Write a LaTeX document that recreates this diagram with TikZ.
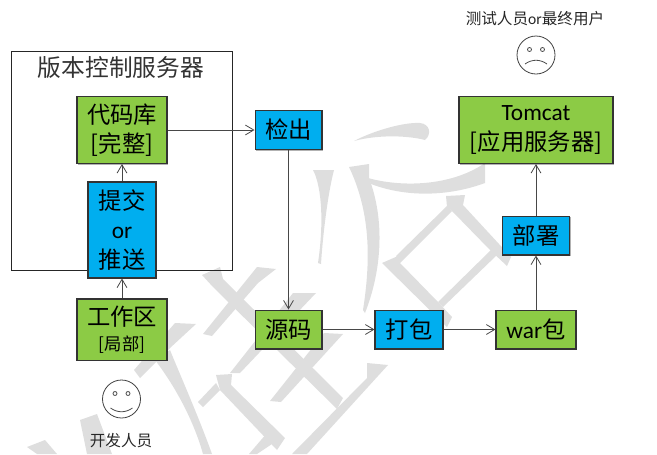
\documentclass[tikz,border=0pt]{standalone}
\usepackage{fontspec}
\usepackage{xcolor}
\setmainfont{Carlito}
\newfontfamily\cjk{Noto Sans CJK SC}
\usetikzlibrary{arrows.meta,shadows}
\definecolor{vcsgreen}{HTML}{8CCB45}
\definecolor{vcsblue}{HTML}{00AEEF}
\colorlet{vcsline}{black!72}
\colorlet{vcsmark}{black!13}
\tikzset{
  vcsstage/.style={
    draw=black!80,
    thick,
    align=center,
    inner sep=0pt,
    font=\fontsize{17.5}{22}\selectfont\cjk,
    drop shadow={shadow xshift=0.8pt,shadow yshift=-0.8pt,opacity=0.3,fill=black}
  },
  vcsgreenbox/.style={vcsstage,fill=vcsgreen},
  vcsbluebox/.style={vcsstage,fill=vcsblue},
  vcsflow/.style={-{Straight Barb[length=2.2mm,width=2.6mm]},semithick,vcsline},
  vcsouter/.style={draw=black!85,semithick,minimum width=165.8pt,minimum height=164.2pt,inner sep=0pt},
  vcsface/.style={circle,draw=black!75,semithick,minimum size=28.5pt,inner sep=0pt},
  vcsfacepart/.style={draw=black!70,semithick},
  vcstitle/.style={font=\fontsize{17.8}{20}\selectfont\cjk,text=black!80},
  vcscaption/.style={font=\fontsize{11.7}{14}\selectfont\cjk,text=black!85},
  vcswater/.style={fill=vcsmark,draw=none}
}
\begin{document}
\begin{tikzpicture}[x=0.75pt,y=-0.75pt]
  \useasboundingbox (0,0) rectangle (657,454);

  \fill[vcswater] (313,170) -- (334,170) .. controls (328,193) and (323,233) .. (321,264) -- (318,263) .. controls (325,215) and (320,183) .. (313,170) -- cycle;
  \fill[vcswater] (349,167) -- (369,164) -- (369,178) .. controls (385,220) and (382,270) .. (365,313) -- (363,310) .. controls (370,265) and (372,215) .. (349,167) -- cycle;
  \fill[vcswater] (368,178) .. controls (400,187) and (450,187) .. (485,163) -- (485,183) .. controls (447,197) and (405,197) .. (371,184) -- cycle;
  \fill[vcswater] (354,141) .. controls (375,130) and (405,122) .. (420,123) .. controls (430,124) and (432,134) .. (425,140) .. controls (410,136) and (380,134) .. (354,141) -- cycle;
  \fill[vcswater] (446,196) -- (465,195) -- (463,205) -- (511,257) -- (507,266) -- (490,250) -- (452,211) -- (447,207) -- cycle;
  \fill[vcswater] (447,206) -- (452,211) -- (400,263) -- (396,256) -- cycle;
  \fill[vcswater] (382,263) -- (398,256) -- (400,263) -- (438,302) -- (452,317) -- (447,327) -- cycle;
  \fill[vcswater] (492,249) -- (497,255) -- (443,307) -- (438,302) -- cycle;
  \fill[vcswater] (202,275) -- (220,267) -- (223,279) -- (343,398) -- (337,409) -- (213,287) -- cycle;
  \fill[vcswater] (257,267) -- (276,269) -- (258,283) -- (212,336) -- (203,334) -- cycle;
  \fill[vcswater] (293,293) -- (316,293) -- (240,373) -- (230,373) -- cycle;
  \fill[vcswater] (324,333) -- (343,334) -- (281,402) -- (270,401) -- cycle;
  \fill[vcswater] (367,363) -- (388,365) -- (307,454) -- (292,454) -- (367,378) -- cycle;
  \fill[vcswater] (175,323) -- (196,324) -- (170,348) -- (140,378) -- (134,370) -- cycle;
  \fill[vcswater] (155,360) -- (170,350) .. controls (178,370) and (198,415) .. (212,454) -- (203,454) .. controls (195,425) and (178,390) .. (155,360) -- cycle;
  \fill[vcswater] (216,375) -- (232,374) -- (231,385) -- (285,438) -- (277,450) -- (220,390) -- cycle;
  \fill[vcswater] (216,383) -- (220,390) -- (203,407) -- (198,402) -- cycle;
  \fill[vcswater] (267,433) -- (275,442) -- (257,454) -- (249,454) -- cycle;
  \fill[vcswater] (80,420) -- (97,414) -- (112,454) -- (87,454) -- cycle;
  \fill[vcswater] (27,447) -- (45,440) -- (57,454) -- (37,454) -- cycle;

  \node[vcsouter] (server) at (121.75,160.5) {};
  \node[vcstitle] (servertitle) at (121,68) {版本控制服务器};

  \node[vcsgreenbox,minimum width=67.5pt,minimum height=50.2pt] (repo) at (122,130) {代码库\\{}[完整]};
  \node[vcsbluebox,minimum width=51pt,minimum height=72pt] (commit) at (122,230) {提交\\{\rmfamily or}\\推送};
  \node[vcsgreenbox,minimum width=67.5pt,minimum height=45.8pt,
        font=\fontsize{17.5}{19}\selectfont\cjk] (workspace) at (122,329.5) {工作区\\{\fontsize{13}{16}\selectfont [局部]}};
  \node[vcsbluebox,minimum width=50.2pt,minimum height=29.2pt] (checkout) at (288.5,130) {检出};
  \node[vcsgreenbox,minimum width=50.2pt,minimum height=29.2pt] (source) at (288.5,329.5) {源码};
  \node[vcsbluebox,minimum width=51pt,minimum height=29.2pt] (pack) at (409,329.5) {打包};
  \node[vcsgreenbox,minimum width=60pt,minimum height=29.2pt] (war) at (536,329.5) {{\rmfamily war}包};
  \node[vcsbluebox,minimum width=50.2pt,minimum height=29.2pt] (deploy) at (536,235.5) {部署};
  \node[vcsgreenbox,minimum width=115.5pt,minimum height=50.2pt] (tomcat) at (536,130) {{\rmfamily Tomcat}\\{}[应用服务器]};

  \draw[vcsflow] (repo) -- (checkout);
  \draw[vcsflow] (commit) -- (repo);
  \draw[vcsflow] (workspace) -- (commit);
  \draw[vcsflow] (checkout) -- (source);
  \draw[vcsflow] (source) -- (pack);
  \draw[vcsflow] (pack) -- (war);
  \draw[vcsflow] (war) -- (deploy);
  \draw[vcsflow] (deploy) -- (tomcat);

  \node[vcsface] (developer) at (121.5,399) {};
  \node[vcsface] (tester) at (536,55) {};
  \begin{scope}[shift={(developer.center)}]
    \foreach \eyex in {-6.5,6.5}
      \draw[vcsfacepart] (\eyex,-5.5) circle (1.5pt);
    \draw[vcsfacepart] (-11,9) .. controls (-4,14) and (4,14) .. (11,9);
  \end{scope}
  \begin{scope}[shift={(tester.center)}]
    \foreach \eyex in {-6.5,6.5}
      \draw[vcsfacepart] (\eyex,-5.5) circle (1.5pt);
    \draw[vcsfacepart] (-11,9) .. controls (-4,4) and (4,4) .. (11,9);
  \end{scope}

  \node[vcscaption] (devlabel) at (121,441) {开发人员};
  \node[vcscaption] (testlabel) at (535,19) {测试人员{\rmfamily or}最终用户};
\end{tikzpicture}
\end{document}
